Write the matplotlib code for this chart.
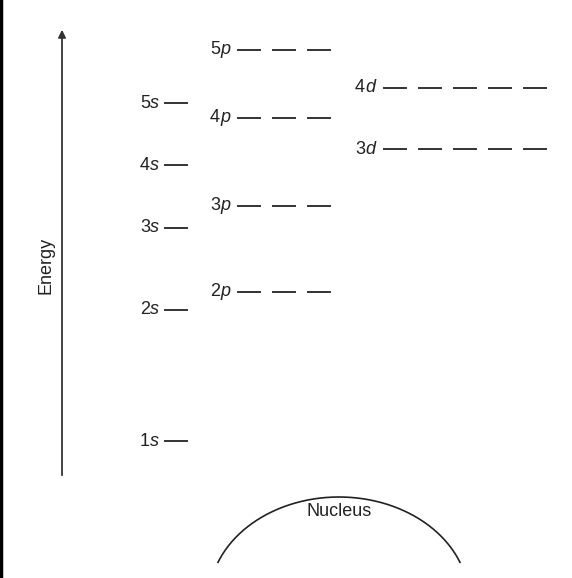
import matplotlib.pyplot as plt
import numpy as np

plt.rcParams['font.family'] = ['Liberation Sans Narrow', 'Liberation Sans', 'DejaVu Sans']

# energy levels: label, y position (pixels from top)
s_labels = ['1s', '2s', '3s', '4s', '5s']
s_y = [441, 310, 228, 165, 103]
p_labels = ['2p', '3p', '4p', '5p']
p_y = [292, 206, 118, 50]
d_labels = ['3d', '4d']
d_y = [149, 88]

fig = plt.figure(figsize=(5.72, 5.78), dpi=100)
ax = fig.add_axes([0, 0, 1, 1])
ax.set_xlim(0, 572)
ax.set_ylim(578, 0)
ax.axis('off')

lc = '#333333'

def level(lbl, y, xtext, x0, n, gap=35, w=22):
    ax.text(xtext, y, lbl[0], ha='right', va='center', fontsize=13, color='#222')
    ax.text(xtext, y, lbl[1], ha='left', va='center', fontsize=13, style='italic', color='#222')
    for i in range(n):
        ax.plot([x0 + i * gap, x0 + i * gap + w], [y, y], color=lc, lw=1.4)

for l, y in zip(s_labels, s_y):
    level(l, y, 150, 165, 1)
for l, y in zip(p_labels, p_y):
    level(l, y, 220, 238, 3)
for l, y in zip(d_labels, d_y):
    level(l, y, 365, 384, 5)

# energy arrow
ax.annotate('', xy=(62, 27), xytext=(62, 478),
            arrowprops=dict(arrowstyle='-|>', color=lc, lw=1.3, mutation_scale=11))
ax.text(46, 265, 'Energy', rotation=90, ha='center', va='center', fontsize=13, color='#222')

# nucleus
t = np.linspace(np.arccos(121 / 130), np.pi - np.arccos(121 / 130), 200)
ax.plot(339 + 130 * np.cos(t), 600 - 103 * np.sin(t), color='#222', lw=1.2)
ax.text(339, 511, 'Nucleus', ha='center', va='center', fontsize=13, color='#222')

# left border
ax.plot([1, 1], [0, 578], color='black', lw=2.5)

fig.savefig('out.png', dpi=100)
